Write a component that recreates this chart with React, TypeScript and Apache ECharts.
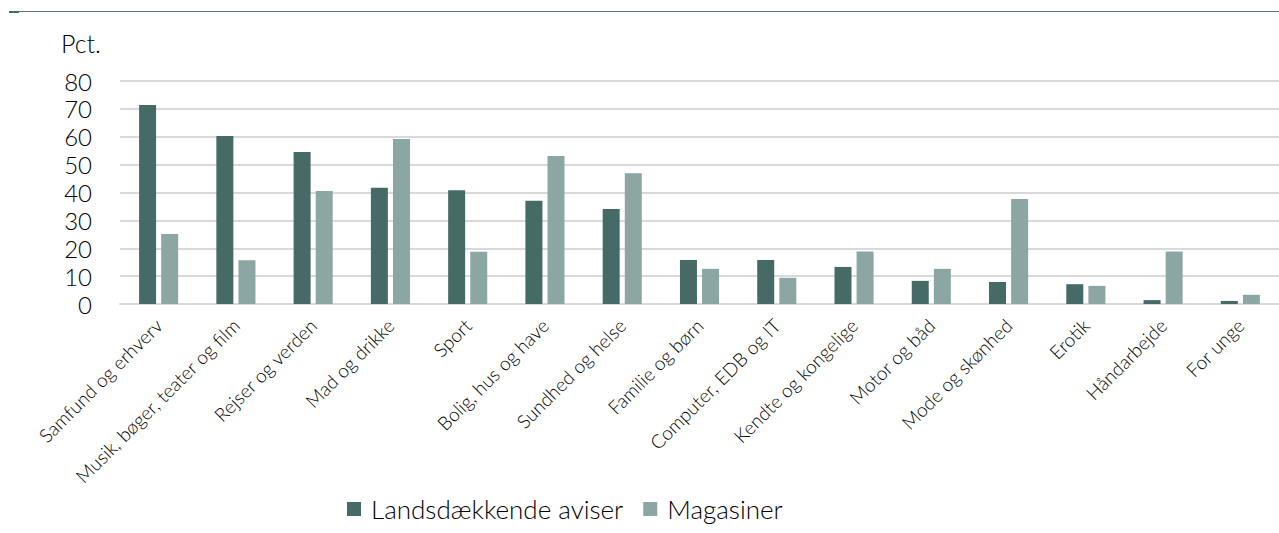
import React, { useEffect, useRef } from "react";
import * as echarts from "echarts";

const categories = [
  "Samfund og erhverv",
  "Musik, bøger, teater og film",
  "Rejser og verden",
  "Mad og drikke",
  "Sport",
  "Bolig, hus og have",
  "Sundhed og helse",
  "Familie og børn",
  "Computer, EDB og IT",
  "Kendte og kongelige",
  "Motor og båd",
  "Mode og skønhed",
  "Erotik",
  "Håndarbejde",
  "For unge",
];
const aviser = [71.4, 60.3, 54.5, 41.7, 40.8, 37.0, 34.1, 15.8, 15.8, 13.3, 8.3, 7.9, 7.1, 1.4, 1.1];
const magasiner = [25.1, 15.7, 40.5, 59.2, 18.7, 53.1, 46.9, 12.6, 9.4, 18.8, 12.6, 37.7, 6.5, 18.8, 3.3];
const seriesNames = ["Landsdækkende aviser", "Magasiner"];
const yUnit = "Pct.";

const FONT = "Lato, 'Open Sans', sans-serif";
const DARK = "#466b67";
const LIGHT = "#8ca6a4";

export default function App() {
  const ref = useRef<HTMLDivElement>(null);
  useEffect(() => {
    const chart = echarts.init(ref.current!, null, { renderer: "svg" });
    chart.setOption({
      animation: false,
      textStyle: { fontFamily: FONT },
      graphic: [
        { type: "line", shape: { x1: 9, y1: 11.5, x2: 1279, y2: 11.5 }, style: { stroke: "#5f7372", lineWidth: 1 } },
        { type: "line", shape: { x1: 9, y1: 12, x2: 19, y2: 12 }, style: { stroke: DARK, lineWidth: 2 } },
        {
          type: "text",
          left: 61,
          top: 30,
          style: { text: yUnit, font: `300 25px ${FONT}`, fill: "#000" },
        },
      ],
      legend: {
        top: 491,
        left: 342,
        itemWidth: 14,
        itemHeight: 14,
        itemGap: 20,
        icon: "rect",
        textStyle: { fontFamily: FONT, fontSize: 26, fontWeight: 300, color: "#000", padding: [0, 0, 0, 5] },
        data: seriesNames,
      },
      grid: { left: 120, right: -6, top: 81, bottom: 229 },
      xAxis: {
        type: "category",
        data: categories,
        axisLine: { lineStyle: { color: "#d9d9d9", width: 2 } },
        axisTick: { show: false },
        axisLabel: {
          rotate: 45,
          interval: 0,
          margin: 18,
          fontFamily: FONT,
          fontSize: 19,
          fontWeight: 300,
          color: "#000",
        },
      },
      yAxis: {
        type: "value",
        min: 0,
        max: 80,
        interval: 10,
        axisLine: { show: false },
        axisTick: { show: false },
        splitLine: { lineStyle: { color: "#d9d9d9", width: 2 } },
        axisLabel: { margin: 28, fontFamily: FONT, fontSize: 24, fontWeight: 300, color: "#000" },
      },
      series: [
        {
          name: seriesNames[0],
          type: "bar",
          data: aviser,
          barWidth: 17,
          barGap: "30%",
          itemStyle: { color: DARK },
        },
        {
          name: seriesNames[1],
          type: "bar",
          data: magasiner,
          barWidth: 17,
          itemStyle: { color: LIGHT },
        },
      ],
    });
    return () => chart.dispose();
  }, []);
  return (
    <div
      ref={ref}
      style={{ position: "absolute", left: 0, top: 0, width: 1279, height: 533, background: "#fff" }}
    />
  );
}
